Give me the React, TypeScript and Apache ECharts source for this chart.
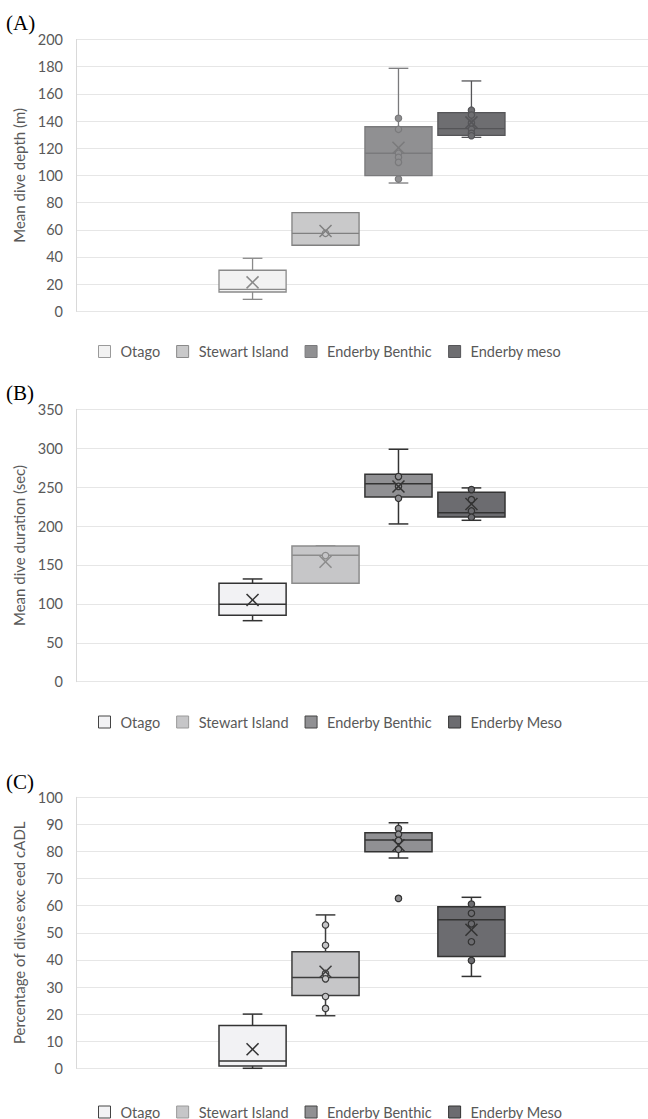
import React, { useEffect, useRef } from "react";
import * as echarts from "echarts";

const GROUPS_A = ["Otago", "Stewart Island", "Enderby Benthic", "Enderby meso"];
const GROUPS_BC = ["Otago", "Stewart Island", "Enderby Benthic", "Enderby Meso"];

// [min, q1, median, q3, max]
const DEPTH_BOX = [
  [8.8, 14.2, 16.2, 30.2, 39],
  [48.6, 48.6, 57.4, 72.6, 72.6],
  [94.4, 99.8, 116.3, 135.8, 178.8],
  [128, 129.5, 134.4, 146.2, 169.5],
];
const DEPTH_MEAN = [21.3, 59.1, 120.4, 139];
const DEPTH_POINTS = [
  [],
  [57.4],
  [142, 133.9, 116.3, 113.3, 109.6, 97.3],
  [148, 144.4, 138.5, 133.9, 131, 129.2],
];

const DURATION_BOX = [
  [78.4, 85.3, 99.5, 126.5, 132],
  [126.5, 126.5, 162.5, 174.4, 174.4],
  [202.7, 237.4, 254.5, 266.6, 298.7],
  [207.4, 211.7, 217.2, 243.4, 249],
];
const DURATION_MEAN = [105, 154.2, 250.7, 228.4];
const DURATION_POINTS = [
  [],
  [162],
  [263.5, 251, 235.7],
  [246.8, 233.9, 219.4, 211.3],
];

const CADL_BOX = [
  [0, 0.85, 2.7, 15.8, 20],
  [19.4, 26.9, 33.5, 43.0, 56.6],
  [77.6, 79.9, 84.2, 86.9, 90.6],
  [33.9, 41.3, 54.8, 59.6, 63.1],
];
const CADL_MEAN = [7.0, 35.6, 82.3, 51.1];
const CADL_POINTS = [
  [],
  [52.9, 45.4, 35.0, 33.0, 26.5, 22.1],
  [88.5, 86.4, 84.1, 80.8, 62.7],
  [60.6, 57.2, 53.3, 46.7, 39.8],
];

const TICKS_A = { min: 0, max: 200, interval: 20 };
const TICKS_B = { min: 0, max: 350, interval: 50 };
const TICKS_C = { min: 0, max: 100, interval: 10 };

const FONT = "Lato, 'Open Sans', sans-serif";
const BOX_W = 0.92;
const CAP_W = 0.27;

type PanelCfg = {
  label: string;
  labelTop: number;
  yName: string;
  names: string[];
  box: number[][];
  mean: number[];
  points: number[][];
  ticks: { min: number; max: number; interval: number };
  gridTop: number;
  gridHeight: number;
  legendTop: number;
  fills: string[];
  strokes: string[];
  legendStrokes: string[];
  lineWidth: number;
};

const PANELS: PanelCfg[] = [
  {
    label: "(A)",
    labelTop: 12,
    yName: "Mean dive depth (m)",
    names: GROUPS_A,
    box: DEPTH_BOX,
    mean: DEPTH_MEAN,
    points: DEPTH_POINTS,
    ticks: TICKS_A,
    gridTop: 39.5,
    gridHeight: 271.8,
    legendTop: 344,
    fills: ["#f2f2f2", "#c9c9ca", "#909092", "#6e6e71"],
    strokes: ["#8a8a8a", "#808080", "#7a7a7c", "#555558"],
    legendStrokes: ["#9a9a9a", "#8a8a8a", "#7a7a7c", "#555558"],
    lineWidth: 1.3,
  },
  {
    label: "(B)",
    labelTop: 9,
    yName: "Mean dive duration (sec)",
    names: GROUPS_BC,
    box: DURATION_BOX,
    mean: DURATION_MEAN,
    points: DURATION_POINTS,
    ticks: TICKS_B,
    gridTop: 36.3,
    gridHeight: 272.4,
    legendTop: 341.5,
    fills: ["#f2f2f4", "#c6c6c8", "#909093", "#6c6c70"],
    strokes: ["#333333", "#8c8c8c", "#333333", "#333333"],
    legendStrokes: ["#444444", "#9a9a9a", "#444444", "#333333"],
    lineWidth: 1.5,
  },
  {
    label: "(C)",
    labelTop: 25,
    yName: "Percentage of dives exc eed cADL",
    names: GROUPS_BC,
    box: CADL_BOX,
    mean: CADL_MEAN,
    points: CADL_POINTS,
    ticks: TICKS_C,
    gridTop: 51.3,
    gridHeight: 271,
    legendTop: 358.5,
    fills: ["#f2f2f4", "#c6c6c8", "#909093", "#6c6c70"],
    strokes: ["#333333", "#3d3d3d", "#333333", "#333333"],
    legendStrokes: ["#444444", "#9a9a9a", "#444444", "#333333"],
    lineWidth: 1.5,
  },
];

function buildOption(cfg: PanelCfg) {
  const series = cfg.names.map((name, gi) => {
    const fill = cfg.fills[gi];
    const stroke = cfg.strokes[gi];
    const lw = cfg.lineWidth;
    const pts = cfg.points[gi];
    return {
      type: "custom",
      name,
      itemStyle: { color: fill, borderColor: stroke },
      encode: { x: 0, y: [1, 2, 3, 4, 5, 6] },
      data: [[gi, ...cfg.box[gi], cfg.mean[gi]]],
      renderItem: (params: any, api: any) => {
        const g = api.value(0);
        const yOf = (v: number) => api.coord([g, v])[1];
        const cx = api.coord([g, api.value(1)])[0];
        const yMin = yOf(api.value(1));
        const yQ1 = yOf(api.value(2));
        const yMed = yOf(api.value(3));
        const yQ3 = yOf(api.value(4));
        const yMax = yOf(api.value(5));
        const yMean = yOf(api.value(6));
        const w = api.size([BOX_W, 0])[0];
        const cw = api.size([CAP_W, 0])[0];
        const ls = { stroke, lineWidth: lw, fill: null };
        const children: any[] = [];
        children.push({ type: "line", shape: { x1: cx, y1: yQ3, x2: cx, y2: yMax }, style: ls });
        children.push({ type: "line", shape: { x1: cx - cw / 2, y1: yMax, x2: cx + cw / 2, y2: yMax }, style: ls });
        children.push({ type: "line", shape: { x1: cx, y1: yQ1, x2: cx, y2: yMin }, style: ls });
        children.push({ type: "line", shape: { x1: cx - cw / 2, y1: yMin, x2: cx + cw / 2, y2: yMin }, style: ls });
        children.push({
          type: "rect",
          shape: { x: cx - w / 2, y: yQ3, width: w, height: yQ1 - yQ3 },
          style: { fill, stroke, lineWidth: lw },
        });
        children.push({ type: "line", shape: { x1: cx - w / 2, y1: yMed, x2: cx + w / 2, y2: yMed }, style: ls });
        pts.forEach((p) => {
          children.push({
            type: "circle",
            shape: { cx, cy: yOf(p), r: 3.2 },
            style: { fill, stroke, lineWidth: 1.2 },
          });
        });
        const m = 6;
        children.push({ type: "line", shape: { x1: cx - m, y1: yMean - m, x2: cx + m, y2: yMean + m }, style: { stroke, lineWidth: 1.5 } });
        children.push({ type: "line", shape: { x1: cx - m, y1: yMean + m, x2: cx + m, y2: yMean - m }, style: { stroke, lineWidth: 1.5 } });
        return { type: "group", children };
      },
    };
  });

  return {
    animation: false,
    title: {
      text: cfg.label,
      left: 6,
      top: cfg.labelTop,
      padding: 0,
      textStyle: { fontFamily: "'Liberation Serif', 'Times New Roman', serif", fontSize: 21, fontWeight: "normal", color: "#000" },
    },
    legend: {
      left: 98,
      top: cfg.legendTop,
      padding: 0,
      itemWidth: 12,
      itemHeight: 12,
      itemGap: 16,
      icon: "rect",
      selectedMode: false,
      textStyle: { fontFamily: FONT, fontSize: 14.5, color: "#595959", padding: [0, 0, 0, 5] },
      data: cfg.names.map((n, i) => ({
        name: n,
        itemStyle: { color: cfg.fills[i], borderColor: cfg.legendStrokes[i], borderWidth: 1 },
      })),
    },
    grid: { left: 76, right: 0, top: cfg.gridTop, height: cfg.gridHeight },
    xAxis: { type: "value", min: -2.42, max: 5.42, show: false, splitLine: { show: false } },
    yAxis: {
      type: "value",
      min: cfg.ticks.min,
      max: cfg.ticks.max,
      interval: cfg.ticks.interval,
      name: cfg.yName,
      nameLocation: "middle",
      nameGap: 50,
      nameTextStyle: { fontFamily: FONT, fontSize: 15, color: "#595959" },
      axisLine: { show: true, onZero: false, lineStyle: { color: "#d9d9d9" } },
      axisTick: { show: false },
      axisLabel: { fontFamily: FONT, fontSize: 14.5, color: "#595959", margin: 13, padding: [5, 0, 0, 0] },
      splitLine: { show: true, lineStyle: { color: "#e6e6e6", width: 1 } },
    },
    series,
  };
}

function Panel({ cfg }: { cfg: PanelCfg }) {
  const ref = useRef<HTMLDivElement>(null);
  useEffect(() => {
    if (!ref.current) return;
    const chart = echarts.init(ref.current, undefined, { renderer: "svg" });
    chart.setOption(buildOption(cfg) as any);
    return () => chart.dispose();
  }, [cfg]);
  return <div ref={ref} style={{ width: 648, height: 373 }} />;
}

export default function App() {
  useEffect(() => {
    document.body.style.margin = "0";
  }, []);
  return (
    <div style={{ width: 648, height: 1119, background: "#fff" }}>
      {PANELS.map((p) => (
        <Panel key={p.label} cfg={p} />
      ))}
    </div>
  );
}
